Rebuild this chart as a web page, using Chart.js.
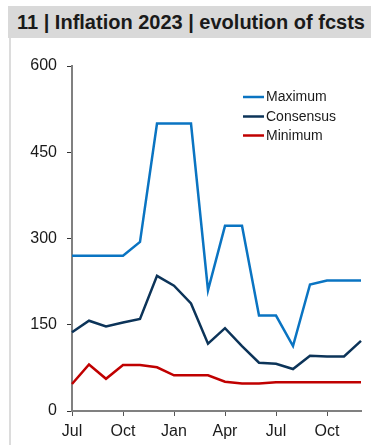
<!DOCTYPE html>
<html>
<head>
<meta charset="utf-8">
<script src="https://cdn.jsdelivr.net/npm/chart.js@4/dist/chart.umd.min.js"></script>
<style>
  html, body { margin: 0; padding: 0; background: #fff; }
  body { width: 376px; height: 445px; position: relative; overflow: hidden; font-family: "Liberation Sans", Arial, sans-serif; }
  #title {
    position: absolute; left: 8px; top: 6px; width: 363px; height: 32px;
    background: #d9d9d9; color: #1a1a1a; font-weight: bold; font-size: 20px;
    line-height: 32px; padding-left: 9px; box-sizing: border-box; white-space: nowrap;
  }
  #frame { position: absolute; left: 9px; top: 38px; width: 2px; height: 407px; background: #dcdcdc; }
  #wrap { position: absolute; left: 0; top: 0; width: 376px; height: 445px; }
</style>
</head>
<body>
<div id="wrap"><canvas id="c" width="376" height="445"></canvas></div>
<div id="title">11 | Inflation 2023 | evolution of fcsts</div>
<div id="frame"></div>
<script>
// Monthly forecast snapshots, Jul 2022 – Dec 2023
const months = ['Jul','Aug','Sep','Oct','Nov','Dec','Jan','Feb','Mar','Apr','May','Jun','Jul','Aug','Sep','Oct','Nov','Dec'];
const xTickLabels = ['Jul','Oct','Jan','Apr','Jul','Oct'];
const yTicks = [0, 150, 300, 450, 600];

const maximum   = [270, 270, 270, 270, 294, 500, 500, 500, 210, 322, 322, 166, 166, 113, 220, 227, 227, 227];
const consensus = [137, 157, 147, 154, 160, 235, 218, 187, 117, 144, 113, 84, 82, 73, 96, 95, 95, 122];
const minimum   = [47, 81, 56, 80, 80, 76, 62, 62, 62, 51, 48, 48, 50, 50, 50, 50, 50, 50];

const seriesNames = ['Maximum', 'Consensus', 'Minimum'];
const seriesColors = ['#0a74c2', '#0c3459', '#c00000'];

const FONT = '"Liberation Sans", Arial, sans-serif';

// Line-sample legend drawn inside the plot area
const lineLegend = {
  id: 'lineLegend',
  afterDraw(chart) {
    const ctx = chart.ctx;
    const x0 = 243, x1 = 264, tx = 266;
    const rows = [97, 116.5, 135.5];
    ctx.save();
    ctx.font = '14px ' + FONT;
    ctx.textBaseline = 'middle';
    ctx.textAlign = 'left';
    chart.data.datasets.forEach((ds, i) => {
      ctx.strokeStyle = ds.borderColor;
      ctx.lineWidth = 2.5;
      ctx.beginPath();
      ctx.moveTo(x0, rows[i]);
      ctx.lineTo(x1, rows[i]);
      ctx.stroke();
      ctx.fillStyle = '#1a1a1a';
      ctx.fillText(ds.label, tx, rows[i] + 0.5);
    });
    ctx.restore();
  }
};

const seriesData = [maximum, consensus, minimum];

new Chart(document.getElementById('c'), {
  type: 'line',
  data: {
    labels: months,
    datasets: seriesData.map((d, i) => ({
      label: seriesNames[i],
      data: d,
      borderColor: seriesColors[i],
      backgroundColor: seriesColors[i],
      borderWidth: 2.5,
      pointRadius: 0,
      tension: 0,
      borderJoinStyle: 'miter'
    }))
  },
  options: {
    responsive: false,
    animation: false,
    devicePixelRatio: 1,
    layout: { padding: { left: 0, right: 15, top: 66, bottom: 0 } },
    plugins: { legend: { display: false }, tooltip: { enabled: false } },
    scales: {
      x: {
        type: 'category',
        offset: false,
        border: { color: '#808080', width: 2 },
        grid: {
          drawOnChartArea: false,
          drawTicks: true,
          tickLength: 5,
          lineWidth: 1,
          color: (c) => (c.index % 3 === 0 ? '#555555' : 'rgba(0,0,0,0)')
        },
        ticks: {
          autoSkip: false,
          maxRotation: 0,
          padding: 6,
          color: '#1a1a1a',
          font: { family: FONT, size: 16 },
          callback: (v, i) => (i % 3 === 0 ? xTickLabels[i / 3] : '')
        },
        afterFit: (s) => { s.height = 34; }
      },
      y: {
        min: 0,
        max: 600,
        border: { color: '#808080', width: 2 },
        grid: { drawOnChartArea: false, drawTicks: true, tickLength: 5, color: '#333333' },
        afterBuildTicks: (s) => { s.ticks = yTicks.map(v => ({ value: v })); },
        ticks: {
          padding: 10,
          color: '#1a1a1a',
          font: { family: FONT, size: 16 }
        },
        afterFit: (s) => { s.width = 72; }
      }
    }
  },
  plugins: [lineLegend]
});
</script>
</body>
</html>
